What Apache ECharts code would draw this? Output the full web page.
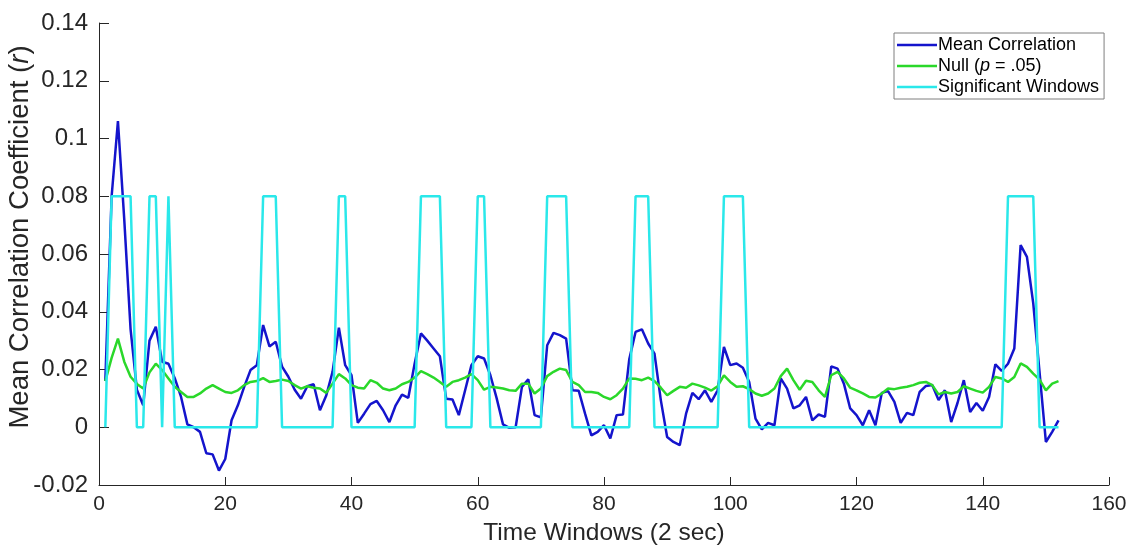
<!DOCTYPE html>
<html>
<head>
<meta charset="utf-8">
<script src="https://cdn.jsdelivr.net/npm/echarts@6/dist/echarts.min.js"></script>
<style>
html,body{margin:0;padding:0;background:#fff;}
#chart{width:1130px;height:546px;}
</style>
</head>
<body>
<div id="chart"></div>
<script>
// Mean correlation per time window (windows 1..152)
const meanCorrelation = [
0.016,0.080,0.106,0.072,0.034,0.013,0.0076,0.030,0.0348,0.0227,
0.022,0.017,0.0105,0.001,0.0,-0.0016,-0.009,-0.0094,-0.015,-0.011,
0.0024,0.0076,0.014,0.0198,0.0215,0.0354,0.028,0.0296,0.021,0.0175,
0.013,0.0099,0.0142,0.0149,0.0059,0.011,0.0192,0.0345,0.0215,0.018,
0.0015,0.0047,0.008,0.0091,0.0059,0.0018,0.0076,0.0113,0.0102,0.022,
0.0325,0.030,0.0273,0.0246,0.0099,0.0096,0.0042,0.0128,0.0215,0.0246,
0.0238,0.018,0.010,0.001,-0.0002,0.0,0.014,0.0166,0.0042,0.0034,
0.0284,0.0327,0.0319,0.0307,0.0128,0.0126,0.0047,-0.0028,-0.0016,0.0007,
-0.0039,0.0042,0.0044,0.0235,0.033,0.0339,0.029,0.0255,0.0094,-0.0034,
-0.0051,-0.0062,0.0047,0.0119,0.0097,0.0128,0.0088,0.0128,0.0278,0.0215,
0.0221,0.0206,0.0157,0.003,-0.0007,0.0015,0.0007,0.0169,0.0134,0.0065,
0.0076,0.0105,0.0024,0.0044,0.0036,0.0211,0.0203,0.0151,0.0065,0.0042,
0.0007,0.0059,0.0007,0.0119,0.0125,0.0088,0.0015,0.005,0.0042,0.0122,
0.0143,0.0146,0.0094,0.0128,0.0018,0.0084,0.0163,0.0053,0.0084,0.0057,
0.0105,0.0218,0.0195,0.022,0.0273,0.0631,0.059,0.0429,0.019,-0.0051,
-0.0016,0.0024
];
// Null threshold (p = .05)
const nullThreshold = [
0.016,0.024,0.0307,0.0227,0.0175,0.015,0.0134,0.019,0.022,0.0198,
0.0169,0.014,0.0122,0.0105,0.0105,0.0117,0.0134,0.0146,0.0134,0.0122,
0.0119,0.0128,0.0146,0.0157,0.016,0.017,0.0157,0.016,0.0165,0.016,
0.0146,0.0134,0.0142,0.0137,0.0134,0.0119,0.0151,0.0184,0.0169,0.0146,
0.0137,0.0134,0.0163,0.0154,0.0134,0.0128,0.0134,0.0149,0.0157,0.0172,
0.0194,0.0184,0.0172,0.0157,0.014,0.0157,0.0163,0.0172,0.0184,0.0163,
0.013,0.014,0.0138,0.0134,0.0128,0.0126,0.0151,0.0151,0.0117,0.0134,
0.0177,0.0192,0.0203,0.0198,0.0157,0.0146,0.0122,0.0122,0.0119,0.0105,
0.0097,0.0111,0.0134,0.0169,0.0168,0.0163,0.0172,0.016,0.0137,0.0111,
0.0126,0.014,0.0137,0.0151,0.0145,0.0137,0.0127,0.0142,0.018,0.0157,
0.014,0.0142,0.0132,0.0117,0.0109,0.0117,0.0134,0.0177,0.0203,0.0163,
0.013,0.0161,0.0157,0.0128,0.0105,0.018,0.0192,0.0169,0.0137,0.0128,
0.0117,0.0105,0.0103,0.0117,0.0134,0.0132,0.0137,0.014,0.0146,0.0154,
0.0157,0.0146,0.0114,0.0122,0.0117,0.0122,0.0142,0.0134,0.0126,0.012,
0.014,0.0174,0.0169,0.0157,0.0174,0.0221,0.0209,0.0186,0.0165,0.0128,
0.0151,0.016
];
// Significant windows indicator (0 or 0.08)
const significantWindows = [
0,0.08,0.08,0.08,0.08,0,0,0.08,0.08,0,
0.08,0,0,0,0,0,0,0,0,0,
0,0,0,0,0,0.08,0.08,0.08,0,0,
0,0,0,0,0,0,0,0.08,0.08,0,
0,0,0,0,0,0,0,0,0,0,
0.08,0.08,0.08,0.08,0,0,0,0,0,0.08,
0.08,0,0,0,0,0,0,0,0,0,
0.08,0.08,0.08,0.08,0,0,0,0,0,0,
0,0,0,0,0.08,0.08,0.08,0,0,0,
0,0,0,0,0,0,0,0,0.08,0.08,
0.08,0.08,0,0,0,0,0,0,0,0,
0,0,0,0,0,0,0,0,0,0,
0,0,0,0,0,0,0,0,0,0,
0,0,0,0,0,0,0,0,0,0,
0,0,0,0.08,0.08,0.08,0.08,0.08,0,0,
0,0
];
const seriesNames = ['Mean Correlation', 'Null (p = .05)', 'Significant Windows'];
const xTicks = [0, 20, 40, 60, 80, 100, 120, 140, 160];
const yTicks = [-0.02, 0, 0.02, 0.04, 0.06, 0.08, 0.1, 0.12, 0.14];

function toPairs(arr) {
  const out = [];
  for (let k = 0; k < arr.length; k++) out.push([k + 1, arr[k]]);
  return out;
}

const txt = '#262626';
const chart = echarts.init(document.getElementById('chart'));
chart.setOption({
  animation: false,
  backgroundColor: '#ffffff',
  textStyle: { fontFamily: 'Liberation Sans, Arial, sans-serif' },
  grid: { left: 99, right: 21, top: 23, bottom: 61, containLabel: false, outerBoundsMode: 'none' },
  legend: {
    orient: 'vertical',
    left: 894,
    top: 33,
    data: seriesNames,
    icon: 'rect',
    itemWidth: 40,
    itemHeight: 2.5,
    itemGap: 3,
    padding: [3, 5, 3, 3],
    borderColor: '#7f7f7f',
    borderWidth: 1,
    backgroundColor: '#ffffff',
    textStyle: { fontSize: 18, color: '#000', padding: [0, 0, 0, -4],
      rich: { i: { fontStyle: 'italic', fontSize: 18, color: '#000' } } },
    formatter: function (name) {
      return name.replace('(p =', '({i|p} =');
    }
  },
  xAxis: {
    type: 'value',
    min: xTicks[0],
    max: xTicks[xTicks.length - 1],
    interval: 20,
    name: 'Time Windows (2 sec)',
    nameLocation: 'middle',
    nameGap: 36,
    nameMoveOverlap: false,
    nameTextStyle: { fontSize: 24.5, color: txt },
    axisLine: { show: true, onZero: false, lineStyle: { color: txt, width: 1 } },
    axisTick: { show: true, inside: true, length: 8, lineStyle: { color: txt } },
    axisLabel: { fontSize: 21, color: txt, margin: 9 },
    splitLine: { show: false }
  },
  yAxis: {
    type: 'value',
    min: yTicks[0],
    max: yTicks[yTicks.length - 1],
    interval: 0.02,
    name: 'Mean Correlation Coefficient ({i|r})',
    nameLocation: 'middle',
    nameGap: 65,
    nameMoveOverlap: false,
    nameTextStyle: { fontSize: 27.5, color: txt, padding: [0, 0, 0, 34],
      rich: { i: { fontStyle: 'italic', fontSize: 27.5, color: txt } } },
    axisLine: { show: true, onZero: false, lineStyle: { color: txt, width: 1 } },
    axisTick: { show: true, inside: true, length: 10, lineStyle: { color: txt } },
    axisLabel: { fontSize: 24, color: txt, margin: 11,
      formatter: function (v) { return String(+v.toFixed(2)); } },
    splitLine: { show: false }
  },
  series: [
    { name: seriesNames[0], type: 'line', data: toPairs(meanCorrelation), symbol: 'none',
      lineStyle: { color: '#1414cc', width: 2.5 }, itemStyle: { color: '#1414cc' } },
    { name: seriesNames[1], type: 'line', data: toPairs(nullThreshold), symbol: 'none',
      lineStyle: { color: '#2ad82a', width: 2.5 }, itemStyle: { color: '#2ad82a' } },
    { name: seriesNames[2], type: 'line', data: toPairs(significantWindows), symbol: 'none',
      lineStyle: { color: '#2ae8ea', width: 2.5 }, itemStyle: { color: '#2ae8ea' } }
  ]
});
</script>
</body>
</html>
